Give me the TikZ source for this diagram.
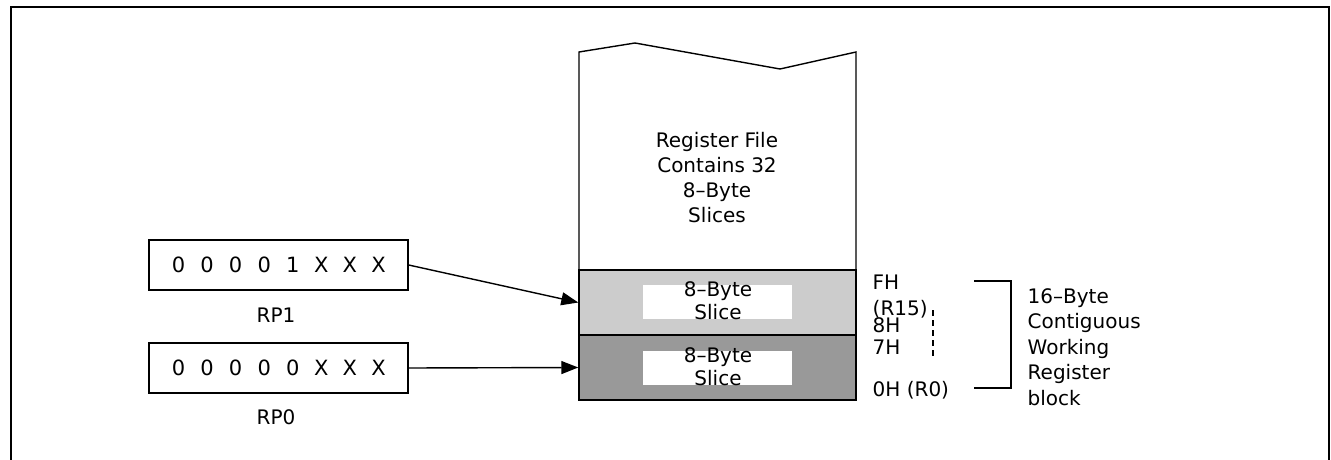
\documentclass[tikz,border=0pt]{standalone}
\usepackage{fontspec}
\setmainfont{DejaVu Sans}
\usetikzlibrary{arrows.meta}
\definecolor{lightg}{RGB}{204,204,204}
\definecolor{darkg}{RGB}{153,153,153}
\newcommand\bitc[1]{\makebox[28.57pt]{#1}}
\begin{document}
\begin{tikzpicture}[x=1pt,y=-1pt,line width=1.4pt,
  txt/.style={font=\fontsize{20}{24}\selectfont, inner sep=0pt, align=center},
  regbox/.style={draw, minimum width=259pt, minimum height=50pt, inner sep=0pt,
    font=\fontsize{21}{24}\selectfont},
  slicebox/.style={draw, minimum width=277pt, minimum height=65pt, inner sep=0pt},
  whitebox/.style={fill=white, minimum width=149pt, minimum height=34pt, inner sep=0pt},
  arr/.style={-{Triangle[length=17pt,width=13pt]}},
  lbl/.style={font=\fontsize{20}{24}\selectfont, inner sep=0pt, anchor=base west}
]
\useasboundingbox (0,0) rectangle (1331,460);
% outer frame
\draw[line width=2.2pt] (11,460) -- (11,7) -- (1329,7) -- (1329,460);
% register file outline
\draw (579,300) -- (579,52) -- (635,43) -- (780,69) -- (856,52) -- (856,300);
\node[slicebox, fill=lightg] (light) at (717.5,302.5) {};
\node[slicebox, fill=darkg] (dark) at (717.5,367.5) {};
\node[whitebox] (w1) at (717.5,302) {};
\node[whitebox] (w2) at (717.5,368) {};
\node[txt, font=\fontsize{20}{23}\selectfont] (t1) at (718,301) {8–Byte\\Slice};
\node[txt, font=\fontsize{20}{23}\selectfont] (t2) at (718,366.5) {8–Byte\\Slice};
\node[txt, font=\fontsize{20}{24.8}\selectfont] (rf) at (717,177.5) {Register File\\Contains 32\\8–Byte\\Slices};
% register pointers
\node[regbox] (rp1) at (278.5,265) {\bitc0\bitc0\bitc0\bitc0\bitc1\bitc X\bitc X\bitc X};
\node[regbox] (rp0) at (278.5,368) {\bitc0\bitc0\bitc0\bitc0\bitc0\bitc X\bitc X\bitc X};
\node[txt] (l1) at (276,315) {RP1};
\node[txt] (l0) at (276,417) {RP0};
\draw[arr] (rp1.east) -- (light.west);
\draw[arr] (rp0.east) -- (dark.west);
% address labels
\node[lbl] (fh) at (872,289) {FH};
\node[lbl] (r15) at (872,315) {(R15)};
\node[lbl] (h8) at (872,332) {8H};
\node[lbl] (h7) at (872,354) {7H};
\node[lbl] (h0) at (872,396) {0H (R0)};
\coordinate (d1) at (933,310);
\coordinate (d2) at (933,359);
\draw[dash pattern=on 6pt off 4pt] (d1) -- (d2);
% bracket
\coordinate (b1) at (974,281);
\coordinate (b2) at (1011,281);
\coordinate (b3) at (1011,388);
\coordinate (b4) at (974,388);
\draw (b1) -- (b2) -- (b3) -- (b4);
\node[txt, align=left, anchor=west, font=\fontsize{20}{25.5}\selectfont] (blk) at (1027,347)
  {16–Byte\\Contiguous\\Working\\Register\\block};
\end{tikzpicture}
\end{document}
